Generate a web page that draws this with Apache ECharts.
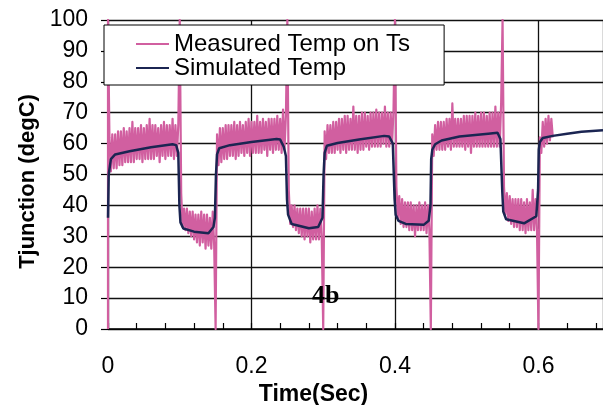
<!DOCTYPE html>
<html><head><meta charset="utf-8">
<script src="https://cdn.jsdelivr.net/npm/echarts@6/dist/echarts.min.js"></script>
<style>html,body{margin:0;padding:0;background:#fff}#c{width:603px;height:405px}</style>
</head><body><div id="c"></div>
<script>
const seriesNames = ['Measured Temp on Ts', 'Simulated Temp'];
const xTickLabels = ['0', '0.2', '0.4', '0.6'];
// measured: sampled segments (step 0.002 s) with transient spikes between them
const measStep = 0.002;
const measSegStart = [0.002, 0.102, 0.152, 0.252, 0.302, 0.402, 0.452, 0.552, 0.602];
const spikeTimes = [0, 0, 0.1, 0.15, 0.25, 0.3, 0.4, 0.45, 0.55, 0.6];
const spikeTemps = [0, 100, 100, 0, 100, 0, 100, 0, 100, 0];
const measHigh1 = [62,51,63,52,63,52,64,53,64,53,65,54,64,54,65,54,67,54,65,55,65,55,66,54,65,55,66,55,68,55,66,55,66,56,65,54,66,56,67,55,66,56,66,56,68,55,66,56,66];
const measLow1 = [44,33,39,32,39,31,38,30,38,29,37,28,37,27,38,28,37,26,37,27,36,26,38,27];
const measHigh2 = [63,53,65,54,65,55,66,55,66,56,66,56,67,55,66,56,67,57,66,56,67,57,68,56,67,57,67,57,69,57,67,57,68,58,67,56,68,58,68,57,68,58,69,58,68,57,71,58,69];
const measLow2 = [45,34,40,33,40,32,39,31,39,30,39,29,39,30,39,28,38,29,39,29,40,29,39,29];
const measHigh3 = [64,55,66,57,66,57,67,57,67,58,68,57,68,58,69,57,69,58,68,58,72,58,69,57,69,58,70,58,70,59,69,58,70,59,70,59,71,59,70,59,70,60,72,59,70,59,70,60,71];
const measLow3 = [46,36,43,34,42,33,41,33,41,32,41,32,40,30,40,32,41,32,40,32,41,31,40,32];
const measHigh4 = [63,56,66,58,67,58,67,58,67,58,68,59,68,58,73,59,68,59,68,59,68,59,69,58,69,59,69,57,69,59,70,59,69,59,70,59,70,59,69,59,70,59,70,59,72,59,70,59,73];
const measLow4 = [46,37,44,35,43,34,42,33,42,33,42,32,42,32,41,31,42,32,41,32,45,32,42,32];
const measHigh5 = [62,57,67,59,68,60,69,61,68,62];
// simulated
const simTime = [0,0.001,0.004,0.01,0.03,0.06,0.09,0.095,0.098,0.0995,0.101,0.105,0.12,0.14,0.147,0.149,0.1505,0.152,0.155,0.17,0.2,0.235,0.24,0.245,0.248,0.2495,0.251,0.256,0.28,0.293,0.299,0.3005,0.302,0.305,0.32,0.35,0.385,0.392,0.397,0.3995,0.401,0.405,0.415,0.44,0.447,0.4495,0.4505,0.452,0.456,0.465,0.49,0.53,0.543,0.547,0.5495,0.551,0.555,0.58,0.597,0.5995,0.6005,0.602,0.606,0.62,0.64,0.66,0.69];
const simTemp = [36,50,55,56.5,57.5,58.8,59.8,59.5,57,40,34.5,32.5,31.5,31,33,36,50,56.5,58.5,59.5,60.5,61.5,61.3,59,56,42,37,34,32.6,33,36,50,57,59.3,60.2,61.3,62.5,62.3,60,42,37,35,34,33.7,35,40,55,58,59.8,61,62.3,63.2,63.5,61.5,45,38,35.5,34.2,36.5,45,58,60.5,61.8,62.5,63.2,63.8,64.3];

const segs = [measHigh1, measLow1, measHigh2, measLow2, measHigh3, measLow3, measHigh4, measLow4, measHigh5];
const measData = [[spikeTimes[0], spikeTemps[0]], [spikeTimes[1], spikeTemps[1]]];
segs.forEach((vals, k) => {
  vals.forEach((v, i) => measData.push([+(measSegStart[k] + i * measStep).toFixed(4), v]));
  if (k + 2 < spikeTimes.length) measData.push([spikeTimes[k + 2], spikeTemps[k + 2]]);
});
const simData = simTime.map((t, i) => [t, simTemp[i]]);

const FONT = '"Liberation Sans", Arial, sans-serif';
const PINK = '#D15FA0', NAVY = '#1B2552';
const chart = echarts.init(document.getElementById('c'), null, {renderer: 'canvas'});
chart.setOption({
  animation: false,
  backgroundColor: '#fff',
  grid: {left: 108, right: 0, top: 20, bottom: 76, containLabel: false, outerBoundsMode: 'none'},
  legend: {
    left: 104, top: 25, orient: 'vertical', icon: 'rect',
    padding: [7, 34, 5, 32], itemWidth: 33, itemHeight: 2, itemGap: 0,
    borderColor: '#000', borderWidth: 1, backgroundColor: '#fff',
    textStyle: {fontFamily: FONT, fontSize: 24, lineHeight: 23, color: '#000'},
    data: seriesNames
  },
  xAxis: [{
    type: 'value', min: 0, max: 0.69, interval: 0.04,
    name: 'Time(Sec)', nameLocation: 'middle', nameGap: 50,
    nameTextStyle: {fontFamily: FONT, fontSize: 23, fontWeight: 'bold', color: '#000', padding: [0, 84, 0, 0]},
    axisLine: {show: true, lineStyle: {color: '#000', width: 1.5}},
    axisTick: {show: true, inside: true, length: 6, lineStyle: {color: '#000', width: 1.2}},
    axisLabel: {
      fontFamily: FONT, fontSize: 23, color: '#000', margin: 26, showMaxLabel: false,
      formatter: v => { const k = Math.round(v / 0.2); return Math.abs(v - k * 0.2) < 1e-6 ? (xTickLabels[k] || '') : ''; }
    },
    splitLine: {show: false}
  }, {
    type: 'value', min: 0, max: 0.69, interval: 0.2, position: 'bottom',
    axisLine: {show: false}, axisTick: {show: false}, axisLabel: {show: false},
    splitLine: {show: true, lineStyle: {color: '#111', width: 1.3}}
  }],
  yAxis: {
    type: 'value', min: 0, max: 100, interval: 10,
    name: 'Tjunction (degC)', nameLocation: 'middle', nameGap: 68,
    nameTextStyle: {fontFamily: FONT, fontSize: 22, fontWeight: 'bold', color: '#000', padding: [0, 14, 0, 0]},
    axisLine: {show: true, lineStyle: {color: '#000', width: 1.5}},
    axisTick: {show: true, inside: false, length: 7, lineStyle: {color: '#000', width: 1.2}},
    axisLabel: {fontFamily: FONT, fontSize: 23, color: '#000', margin: 20},
    splitLine: {show: true, lineStyle: {color: '#111', width: 1.3}}
  },
  graphic: [{
    type: 'text', left: 312, top: 283, z: 10,
    style: {text: '4b', fontFamily: '"Liberation Serif", "Times New Roman", serif', fontSize: 26, fontWeight: 'bold', fill: '#000'}
  }],
  series: [{
    name: seriesNames[0], type: 'line', data: measData, symbol: 'none', showSymbol: false,
    lineStyle: {color: PINK, width: 2.2, join: 'round'}, itemStyle: {color: PINK}, z: 2, clip: true
  }, {
    name: seriesNames[1], type: 'line', data: simData, symbol: 'none', showSymbol: false,
    lineStyle: {color: NAVY, width: 2.5}, itemStyle: {color: NAVY}, z: 3, clip: true
  }]
});
</script></body></html>
